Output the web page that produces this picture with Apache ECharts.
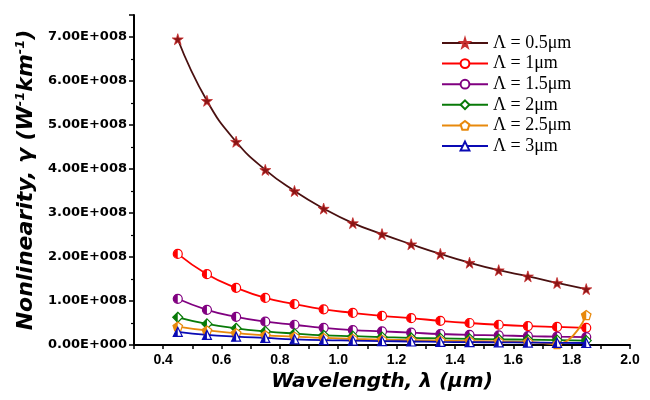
<!DOCTYPE html>
<html>
<head>
<meta charset="utf-8">
<script src="https://cdn.jsdelivr.net/npm/echarts@6/dist/echarts.min.js"></script>
<style>html,body{margin:0;padding:0;background:#fff}#c{width:650px;height:400px}</style>
</head>
<body>
<div id="c"></div>
<script>
const wavelength = [0.45,0.55,0.65,0.75,0.85,0.95,1.05,1.15,1.25,1.35,1.45,1.55,1.65,1.75,1.85];
const gamma05 = [6.95e8,5.55e8,4.62e8,3.98e8,3.50e8,3.10e8,2.77e8,2.52e8,2.29e8,2.07e8,1.87e8,1.70e8,1.56e8,1.41e8,1.27e8];
const gamma1  = [2.07e8,1.61e8,1.30e8,1.07e8,0.93e8,0.81e8,0.73e8,0.66e8,0.61e8,0.55e8,0.50e8,0.46e8,0.43e8,0.41e8,0.39e8];
const gamma15 = [1.05e8,0.80e8,0.64e8,0.53e8,0.46e8,0.39e8,0.34e8,0.31e8,0.28e8,0.25e8,0.23e8,0.22e8,0.20e8,0.19e8,0.18e8];
const gamma2  = [0.63e8,0.48e8,0.38e8,0.31e8,0.26e8,0.22e8,0.20e8,0.18e8,0.16e8,0.15e8,0.14e8,0.13e8,0.12e8,0.11e8,0.10e8];
const gamma25 = [0.42e8,0.33e8,0.27e8,0.22e8,0.19e8,0.16e8,0.14e8,0.12e8,0.11e8,0.10e8,0.09e8,0.08e8,0.07e8,0.02e8,0.68e8];
const gamma3  = [0.30e8,0.23e8,0.19e8,0.16e8,0.13e8,0.11e8,0.10e8,0.09e8,0.08e8,0.07e8,0.065e8,0.06e8,0.055e8,0.05e8,0.045e8];
const seriesNames = ['\u039B = 0.5\u03BCm','\u039B = 1\u03BCm','\u039B = 1.5\u03BCm','\u039B = 2\u03BCm','\u039B = 2.5\u03BCm','\u039B = 3\u03BCm'];
const yTickValues = [0,1e8,2e8,3e8,4e8,5e8,6e8,7e8];

const STAR = 'path://M50,0 L61,35 L98,35 L68,57 L79,91 L50,70 L21,91 L32,57 L2,35 L39,35 Z';
const PENT = 'path://M0,-100 L95,-31 L59,81 L-59,81 L-95,-31 Z';
const HALF = {
  circle: 'path://M10,0 A10,10 0 0 0 10,20 Z',
  diamond: 'path://M10,0 L0,10 L10,20 Z',
  triangle: 'path://M10,0 L0,20 L10,20 Z',
  pent: 'path://M0,-100 L-95,-31 L-59,81 L0,81 Z'
};
const cfg = [
  {data: gamma05, color:'#8a1515', line:'#4a1010', symbol: STAR, size:[11,11], half:null},
  {data: gamma1,  color:'#ff0000', line:'#ff0000', symbol:'circle', size:[9,9], half:'circle'},
  {data: gamma15, color:'#800080', line:'#800080', symbol:'circle', size:[9,9], half:'circle'},
  {data: gamma2,  color:'#087a08', line:'#087a08', symbol:'diamond', size:[10,10], half:'diamond'},
  {data: gamma25, color:'#e8890c', line:'#e8890c', symbol: PENT, size:[9.5,9], half:'pent'},
  {data: gamma3,  color:'#0a0ab4', line:'#0a0ab4', symbol:'triangle', size:[9,9], half:'triangle'}
];
const series = [];
cfg.forEach((c, i) => {
  const pts = wavelength.map((x, k) => [x, c.data[k]]);
  series.push({
    name: seriesNames[i], type: 'line', smooth: true, data: pts,
    symbol: c.symbol, symbolSize: c.size, showAllSymbol: true,
    lineStyle: {color: c.line, width: 1.8},
    itemStyle: c.half ? {color: '#ffffff', borderColor: c.color, borderWidth: 1.2}
                      : {color: c.color, borderColor: '#c83030', borderWidth: 0.8},
    z: 2 + i
  });
  if (c.half) {
    series.push({
      name: seriesNames[i] + ' half', type: 'line', data: pts,
      symbol: HALF[c.half], symbolSize: [c.size[0] / 2, c.size[1]],
      symbolOffset: [-c.size[0] / 4, 0], showAllSymbol: true,
      lineStyle: {opacity: 0}, itemStyle: {color: c.color, borderWidth: 0},
      silent: true, z: 3 + i
    });
  }
});

const chart = echarts.init(document.getElementById('c'));
chart.setOption({
  animation: false,
  backgroundColor: '#ffffff',
  grid: {left: 134, right: 20, top: 15, bottom: 55},
  legend: {
    data: seriesNames, orient: 'vertical', left: 436, top: 29,
    itemWidth: 46, itemHeight: 11, itemGap: 2.6,
    textStyle: {fontFamily: 'Liberation Serif', fontSize: 18, color: '#000'}
  },
  xAxis: {
    type: 'value', min: 0.3, max: 2.0, interval: 0.1,
    name: 'Wavelength, \u03BB (\u03BCm)', nameLocation: 'middle', nameGap: 27,
    nameTextStyle: {fontFamily: 'DejaVu Sans', fontStyle: 'italic', fontWeight: 'bold', fontSize: 20, color: '#000'},
    axisLine: {show: true, lineStyle: {color: '#000', width: 2}},
    axisTick: {show: true, length: 4, lineStyle: {color: '#000', width: 1.5}},
    axisLabel: {
      margin: 8, color: '#000', fontFamily: 'Liberation Sans', fontWeight: 'bold', fontSize: 14,
      formatter: v => (Math.round(v * 10) % 2 === 0 ? v.toFixed(1) : '')
    },
    splitLine: {show: false}
  },
  yAxis: {
    type: 'value', min: 0, max: 7.5e8, interval: 1e8,
    name: 'Nonlinearity, \u03B3 (W{s|-1}km{s|-1})', nameLocation: 'middle', nameGap: 90, nameRotate: 90,
    nameTextStyle: {fontFamily: 'DejaVu Sans', fontStyle: 'italic', fontWeight: 'bold', fontSize: 22, color: '#000',
      rich: {s: {fontFamily: 'DejaVu Sans', fontStyle: 'italic', fontWeight: 'bold', fontSize: 13, verticalAlign: 'top', padding: [0,0,11,0]}}},
    axisLine: {show: true, lineStyle: {color: '#000', width: 2}},
    axisTick: {show: true, length: 5, lineStyle: {color: '#000', width: 1.5}},
    minorTick: {show: true, splitNumber: 2, length: 3, lineStyle: {color: '#000', width: 1.2}},
    axisLabel: {
      margin: 7, color: '#000', fontFamily: 'DejaVu Sans', fontWeight: 'bold', fontSize: 13,
      formatter: v => {
        if (yTickValues.indexOf(v) < 0) return '';
        return v === 0 ? '0.00E+000' : (v / 1e8).toFixed(2) + 'E+008';
      }
    },
    splitLine: {show: false}
  },
  series: series
});
</script>
</body>
</html>
